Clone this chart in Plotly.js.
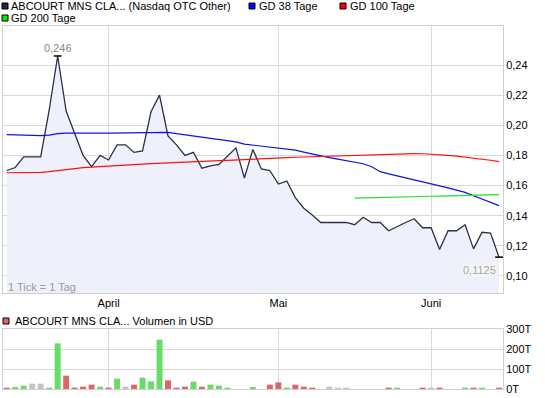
<!DOCTYPE html>
<html>
<head>
<meta charset="utf-8">
<script src="https://cdn.plot.ly/plotly-3.0.1.min.js"></script>
<style>html,body{margin:0;padding:0;background:#fff;}#chart{width:545px;height:398px;}</style>
</head>
<body>
<div id="chart"></div>
<script>
// ---- data ----
const monthTickIdx = [12, 32, 50];
const monthLabels = ['April', 'Mai', 'Juni'];
const prevClose = 0.1705;
const price = [0.170,0.172,0.179,0.179,0.179,0.210,0.246,0.2095,0.195,0.180,
  0.1725,0.180,0.177,0.187,0.187,0.182,0.183,0.209,0.220,0.193,
  0.187,0.180,0.182,0.1715,0.173,0.174,0.1795,0.185,0.165,0.184,
  0.171,0.170,0.161,0.163,0.152,0.145,0.1405,0.1355,0.1355,0.1355,
  0.1355,0.134,0.139,0.1355,0.1355,0.130,0.133,0.1355,0.138,0.132,
  0.132,0.1175,0.130,0.130,0.134,0.118,0.129,0.1285,0.1125];
const gd38 = [0.1938,0.1935,0.1932,0.1930,0.1931,0.1935,0.1945,0.1948,0.1947,0.1947,
  0.1948,0.1948,0.1948,0.1949,0.1950,0.1950,0.1952,0.1955,0.1957,0.1953,
  0.1945,0.1937,0.1930,0.1922,0.1915,0.1908,0.1900,0.1890,0.1875,0.1868,
  0.1862,0.1856,0.1850,0.1843,0.1835,0.1822,0.1808,0.1795,0.1785,0.1775,
  0.1765,0.1755,0.1745,0.1725,0.1692,0.1678,0.1665,0.1653,0.1642,0.1628,
  0.1612,0.1598,0.1585,0.1570,0.1555,0.1532,0.1510,0.1488,0.1467];
const gd100 = [0.1685,0.1685,0.1685,0.1686,0.1687,0.1692,0.1700,0.1708,0.1714,0.1719,
  0.1723,0.1727,0.1730,0.1733,0.1736,0.1739,0.1742,0.1745,0.1748,0.1752,
  0.1755,0.1757,0.1759,0.1761,0.1763,0.1765,0.1767,0.1769,0.1771,0.1773,
  0.1776,0.1779,0.1782,0.1785,0.1788,0.1790,0.1793,0.1795,0.1797,0.1799,
  0.1801,0.1803,0.1804,0.1805,0.1806,0.1808,0.1810,0.1811,0.1812,0.1811,
  0.1809,0.1805,0.1800,0.1795,0.1789,0.1782,0.1776,0.1768,0.1759];
const gd200Start = 41;
const gd200 = [0.1516,0.1518,0.1519,0.1521,0.1522,0.1523,0.1525,0.1526,0.1527,
  0.1529,0.1530,0.1532,0.1533,0.1534,0.1536,0.1537,0.1539,0.1540];
const volume = [6.7,10,16.7,26.7,26.7,6.7,228,66.7,6.7,11.7,
  21.7,11.7,6.7,51.7,11.7,21.7,56.7,38.3,246.7,43.3,
  6.7,11.7,36.7,11.7,21.7,16.7,6.7,0,0,10,
  0,21.7,33,6.7,21.7,11.7,6.7,0,11.7,6.7,
  6.7,0,0,0,0,6.7,6.7,0,0,6.7,
  6.7,6.7,0,0,6.7,6.7,6.7,0,6.7].map(v => v * 1000);
const volTicks = [0, 100000, 200000, 300000];
const volTickText = ['0T', '100T', '200T', '300T'];
const priceTicks = [0.10, 0.12, 0.14, 0.16, 0.18, 0.20, 0.22, 0.24];
const seriesName = 'ABCOURT MNS CLA... (Nasdaq OTC Other)';
const volName = 'ABCOURT MNS CLA... Volumen in USD';

// ---- derived ----
const idx = price.map((_, i) => i);
const gd200Full = idx.map(i => i >= gd200Start ? gd200[i - gd200Start] : null);
const volColors = price.map((p, i) => {
  const prev = i === 0 ? prevClose : price[i - 1];
  return p > prev ? '#66dd66' : (p < prev ? '#dd6666' : '#c4c4c4');
});
const maxVal = Math.max(...price);
const iMax = price.indexOf(maxVal);
const iLast = price.length - 1;
const fmt = v => String(v).replace('.', ',');

// pixel helpers for layout decoration (plot area: x 3..503, y 26..389)
const W = 500, H = 363, L = 3, B = 389;
const px = x => (x - L) / W;
const py = y => (B - y) / H;

const FONT = 'Arial, "Liberation Sans", sans-serif';
const grid = '#dadada';
const frame = '#cfcfcf';

const traces = [
  { x: idx, y: price, type: 'scatter', mode: 'lines', fill: 'tozeroy',
    fillcolor: '#eef1f9', line: { color: '#2b3148', width: 1.3 }, xaxis: 'x', yaxis: 'y' },
  { x: idx, y: gd38, type: 'scatter', mode: 'lines', line: { color: '#1010f0', width: 1.2 }, xaxis: 'x', yaxis: 'y' },
  { x: idx, y: gd100, type: 'scatter', mode: 'lines', line: { color: '#ff1010', width: 1.2 }, xaxis: 'x', yaxis: 'y' },
  { x: idx, y: gd200Full, type: 'scatter', mode: 'lines', line: { color: '#22e022', width: 1.2 }, xaxis: 'x', yaxis: 'y' },
  { x: idx, y: volume, type: 'bar', marker: { color: volColors, line: { width: 0 } }, width: 0.7, xaxis: 'x2', yaxis: 'y2' }
];

function legendSquare(x, yc, color) {
  return { type: 'rect', xref: 'paper', yref: 'paper', x0: px(x), x1: px(x + 6), y0: py(yc + 3), y1: py(yc - 3),
    fillcolor: color, line: { color: '#000', width: 1 } };
}
function legendText(x, yc, text) {
  return { xref: 'paper', yref: 'paper', x: px(x), y: py(yc), xanchor: 'left', yanchor: 'middle',
    text: text, showarrow: false, font: { family: FONT, size: 11, color: '#000' }, borderpad: 0 };
}

const layout = {
  width: 545, height: 398,
  margin: { l: 3, r: 42, t: 26, b: 9 },
  paper_bgcolor: '#fff', plot_bgcolor: '#fff',
  showlegend: false,
  separators: ',.',
  font: { family: FONT, size: 11, color: '#000' },
  bargap: 0.3,
  xaxis: { domain: [0, 1], range: [-0.44, 58.47], anchor: 'y', tickvals: monthTickIdx, ticktext: monthLabels,
    showgrid: true, gridcolor: grid, zeroline: false, showline: true, mirror: true, linecolor: frame,
    ticks: '', tickfont: { family: FONT, size: 11, color: '#000' } },
  yaxis: { domain: [py(293), 1], range: [0.0887, 0.2659], side: 'right', anchor: 'x', tickvals: priceTicks,
    tickformat: '.2f', showgrid: true, gridcolor: grid, zeroline: false, showline: true, mirror: true,
    linecolor: frame, ticks: '', tickfont: { family: FONT, size: 11, color: '#000' } },
  xaxis2: { domain: [0, 1], range: [-0.44, 58.47], anchor: 'y2', tickvals: monthTickIdx, showticklabels: false,
    showgrid: true, gridcolor: grid, zeroline: false, showline: true, mirror: true, linecolor: frame, ticks: '' },
  yaxis2: { domain: [0, py(329)], range: [0, 300000], side: 'right', anchor: 'x2', tickvals: volTicks,
    ticktext: volTickText, showgrid: true, gridcolor: grid, zeroline: false, showline: true, mirror: true,
    linecolor: frame, ticks: '', tickfont: { family: FONT, size: 11, color: '#000' } },
  shapes: [
    legendSquare(2, 6, '#1f2747'),
    legendSquare(249, 6, '#0000ff'),
    legendSquare(340, 6, '#ff0000'),
    legendSquare(2, 18, '#00ee00'),
    legendSquare(3, 321, '#dd6666'),
    { type: 'line', xref: 'x', yref: 'y', x0: iMax - 0.45, x1: iMax + 0.45, y0: maxVal, y1: maxVal,
      line: { color: '#000', width: 1.5 } },
    { type: 'line', xref: 'x', yref: 'y', x0: iLast - 0.45, x1: iLast + 0.5, y0: price[iLast], y1: price[iLast],
      line: { color: '#000', width: 1.5 } }
  ],
  annotations: [
    legendText(10, 6, seriesName),
    legendText(258, 6, 'GD 38 Tage'),
    legendText(349, 6, 'GD 100 Tage'),
    legendText(10, 18, 'GD 200 Tage'),
    legendText(14, 321, volName),
    { xref: 'paper', yref: 'paper', x: px(7), y: py(287), xanchor: 'left', yanchor: 'middle', text: '1 Tick = 1 Tag',
      showarrow: false, font: { family: FONT, size: 11, color: '#9a9a9a' }, borderpad: 0 },
    { xref: 'x', yref: 'y', x: iMax, y: maxVal, xanchor: 'center', yanchor: 'bottom', yshift: 1,
      text: fmt(maxVal), showarrow: false, font: { family: FONT, size: 11, color: '#8a8a8a' }, borderpad: 0 },
    { xref: 'x', yref: 'y', x: iLast, y: price[iLast], xanchor: 'right', yanchor: 'top', yshift: -5, xshift: -1,
      text: fmt(price[iLast]), showarrow: false, bgcolor: '#f4f4f7', borderpad: 1,
      font: { family: FONT, size: 11, color: '#a8a8a8' } }
  ]
};

Plotly.newPlot('chart', traces, layout, { staticPlot: true, displayModeBar: false });
</script>
</body>
</html>
